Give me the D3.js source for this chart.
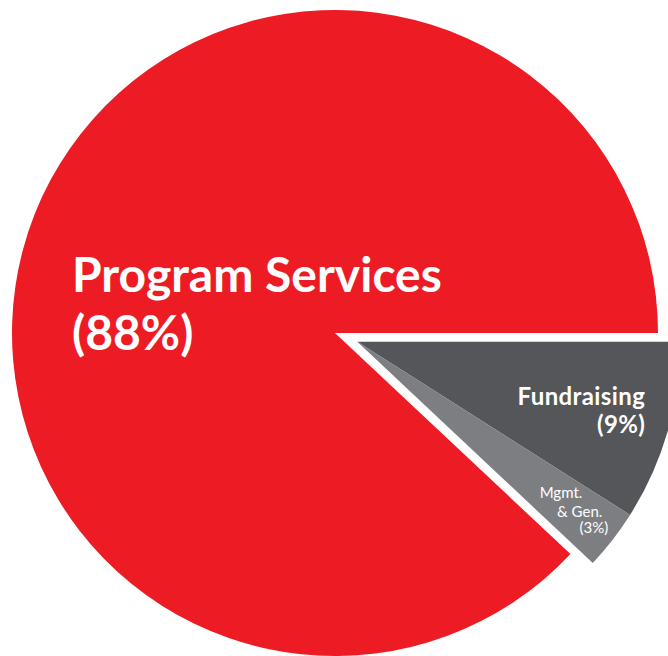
<!DOCTYPE html>
<html>
<head>
<meta charset="utf-8">
<script src="https://cdn.jsdelivr.net/npm/d3@7"></script>
<style>
  html, body { margin: 0; padding: 0; background: #fff; }
  text { font-family: Lato, "Open Sans", sans-serif; fill: #fff; }
</style>
</head>
<body>
<script>
var width = 668,
  height = 656;

// data
var categories = ["Fundraising", "Mgmt. & Gen.", "Program Services"];
var values = [9, 3, 88];
var colors = ["#55565a", "#7d7e82", "#ed1c24"];

var cx = 335, cy = 333, radius = 323, explode = 24;

var svg = d3
  .select("body")
  .append("svg")
  .attr("width", width)
  .attr("height", height);

var data = categories.map(function (c, i) {
  return { name: c, value: values[i], color: colors[i] };
});

var pie = d3.pie()
  .sort(null)
  .startAngle(Math.PI / 2)
  .endAngle(Math.PI / 2 + 2 * Math.PI)
  .value(function (d) { return d.value; });

var slices = pie(data);

var arc = d3.arc().innerRadius(0).outerRadius(radius);

// the two small slices are pulled out together along their shared bisector
var grayStart = slices[0].startAngle,
  grayEnd = slices[1].endAngle,
  mid = (grayStart + grayEnd) / 2;
var dx = Math.sin(mid) * explode,
  dy = -Math.cos(mid) * explode;

var g = svg.append("g").attr("transform", "translate(" + cx + "," + cy + ")");

g.selectAll("path")
  .data(slices)
  .enter()
  .append("path")
  .attr("d", arc)
  .attr("fill", function (d) { return d.data.color; })
  .attr("transform", function (d, i) {
    return i < 2 ? "translate(" + dx + "," + dy + ")" : null;
  });

// labels
var main = g.append("text")
  .attr("x", -263)
  .attr("y", -41)
  .style("font-size", "48px")
  .style("font-weight", "bold");
main.append("tspan").attr("x", -263).text("Program Services");
main.append("tspan").attr("x", -263).attr("dy", 58).text("(88%)");

var fund = g.append("g").attr("transform", "translate(" + dx + "," + dy + ")");
var ft = fund.append("text")
  .attr("text-anchor", "end")
  .attr("x", 288)
  .attr("y", 63)
  .style("font-size", "24px")
  .style("letter-spacing", "0.4px")
  .style("font-weight", "bold");
ft.append("tspan").attr("x", 288).text("Fundraising");
ft.append("tspan").attr("x", 288).attr("dy", 28).text("(9%)");

var mt = fund.append("text")
  .attr("text-anchor", "end")
  .style("font-size", "15px");
[["Mgmt.", 225, 156], ["& Gen.", 245, 175], ["(3%)", 251, 191]].forEach(function (l) {
  mt.append("tspan").attr("x", l[1]).attr("y", l[2]).text(l[0]);
});
</script>
</body>
</html>
